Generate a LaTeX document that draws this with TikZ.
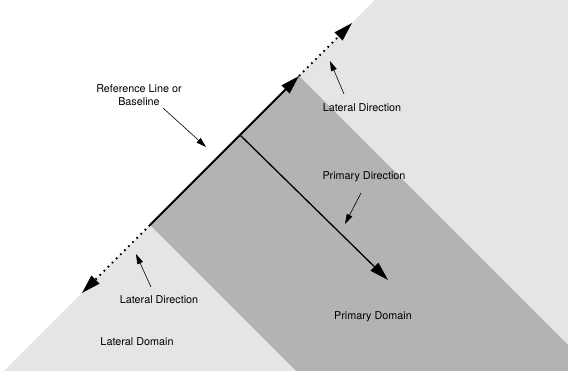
\documentclass[tikz,border=0pt]{standalone}
\usepackage{fontspec}
\setmainfont{TeX Gyre Heros}
\usetikzlibrary{arrows.meta}
\definecolor{darkdom}{RGB}{179,179,179}
\definecolor{lightdom}{RGB}{229,229,229}
\tikzset{
  lbl/.style={font=\fontsize{10.8}{13}\selectfont, inner sep=0pt, align=center},
  bigarrow/.style={-{Triangle[length=19pt,width=11pt]}},
  smallarrow/.style={line width=0.6pt,-{Triangle[length=10pt,width=6pt]}},
  dotline/.style={line width=1.8pt, dash pattern=on 1.6pt off 4.2pt},
}
\begin{document}
\begin{tikzpicture}[x=1pt,y=-1pt]
\useasboundingbox (0,0) rectangle (568,371);
% domains
\fill[lightdom] (4,371) -- (375,0) -- (568,0) -- (568,371) -- cycle;
\coordinate (A) at (150,225);
\coordinate (B) at (299,76);
\fill[darkdom] (A) -- (B) -- (568,345) -- (568,371) -- (296,371) -- cycle;
% lateral dotted arrows
\coordinate (Ltop) at (352,23);
\coordinate (Lbot) at (82,293);
\draw[dotline, bigarrow] (B) -- (Ltop);
\draw[dotline, bigarrow] (A) -- (Lbot);
% baseline
\draw[line width=2pt, bigarrow] (A) -- (B);
% primary direction
\coordinate (P0) at (240,135);
\coordinate (P1) at (388,280);
\draw[line width=1.3pt, bigarrow] (P0) -- (P1);
% labels
\node[lbl] (ref) at (139,95) {Reference Line or\\Baseline};
\node[lbl] (lat1) at (362,108) {Lateral Direction};
\node[lbl] (lat2) at (159,300) {Lateral Direction};
\node[lbl] (pri) at (364,177) {Primary Direction};
\node[lbl] (pdom) at (373,317) {Primary Domain};
\node[lbl] (ldom) at (137,342) {Lateral Domain};
% label arrows
\coordinate (refS) at (163,108);
\coordinate (refT) at (206,147);
\draw[smallarrow] (refS) -- (refT);
\coordinate (lat1S) at (344,94);
\coordinate (lat1T) at (330,61);
\draw[smallarrow] (lat1S) -- (lat1T);
\coordinate (lat2S) at (151,287);
\coordinate (lat2T) at (136,254);
\draw[smallarrow] (lat2S) -- (lat2T);
\coordinate (priS) at (361,193);
\coordinate (priT) at (345,224);
\draw[smallarrow] (priS) -- (priT);
\end{tikzpicture}
\end{document}
